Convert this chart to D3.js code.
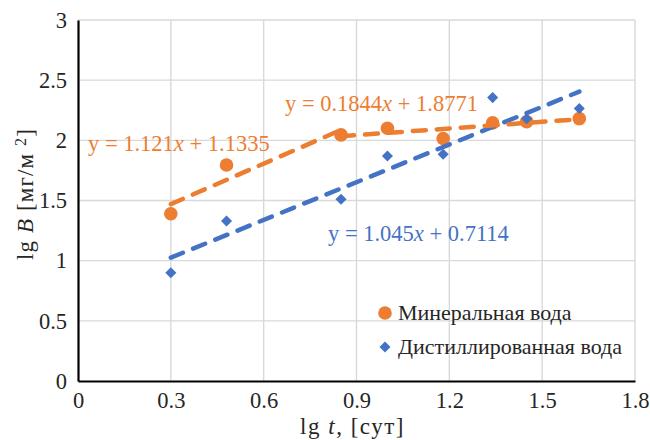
<!DOCTYPE html>
<html>
<head>
<meta charset="utf-8">
<script src="https://cdn.jsdelivr.net/npm/d3@7"></script>
<style>
  body { margin: 0; background: #fff; }
</style>
</head>
<body>
<div id="chart"></div>
<script>
// lg t values (shared by both series)
const lgT = [0.3, 0.48, 0.85, 1.0, 1.18, 1.34, 1.45, 1.62]
const mineral = [1.39, 1.795, 2.045, 2.1, 2.015, 2.145, 2.155, 2.18]
const distilled = [0.9, 1.33, 1.51, 1.87, 1.885, 2.355, 2.18, 2.265]

// trend lines: [slope, intercept, xFrom, xTo]
const mineralFits = [
  [1.121, 1.1335, 0.3, 0.85],
  [0.1844, 1.8771, 0.85, 1.62],
]
const distilledFits = [[1.045, 0.7114, 0.3, 1.62]]

const xTicks = [0, 0.3, 0.6, 0.9, 1.2, 1.5, 1.8]
const yTicks = [0, 0.5, 1, 1.5, 2, 2.5, 3]

const width = 650
const height = 440
const margin = { top: 20, right: 15, bottom: 59, left: 78 }
const orange = '#ED7D31'
const blue = '#4472C4'
const ink = '#262626'
const serif = '"Liberation Serif"'

const svg = d3.select('#chart').append('svg')
  .attr('width', width).attr('height', height)
  .style('font-family', serif)

const x = d3.scaleLinear().domain([0, 1.8]).range([margin.left, width - margin.right])
const y = d3.scaleLinear().domain([0, 3]).range([height - margin.bottom, margin.top])

// stretch letter spacing so a label spans the same width as in the picture
const fitWidth = (sel, target) => {
  const w = sel.node().getComputedTextLength()
  const n = sel.text().length
  sel.attr('letter-spacing', (target - w) / n)
}

// grid
svg.append('g')
  .selectAll('line')
  .data(xTicks.slice(1))
  .join('line')
  .attr('x1', (d) => x(d)).attr('x2', (d) => x(d))
  .attr('y1', y(0)).attr('y2', y(3))
  .attr('stroke', '#d9d9d9').attr('stroke-width', 1.4)

svg.append('g')
  .selectAll('line')
  .data(yTicks.slice(1))
  .join('line')
  .attr('x1', x(0)).attr('x2', x(1.8))
  .attr('y1', (d) => y(d)).attr('y2', (d) => y(d))
  .attr('stroke', '#d9d9d9').attr('stroke-width', 1.4)

// axes
const axisX = svg.append('g')
  .attr('transform', `translate(0,${y(0)})`)
  .call(d3.axisBottom(x).tickValues(xTicks).tickSize(0).tickPadding(11).tickFormat((d) => String(+d.toFixed(1))))
axisX.select('.domain').attr('stroke', '#000').attr('stroke-width', 2.2)

const axisY = svg.append('g')
  .attr('transform', `translate(${x(0)},0)`)
  .call(d3.axisLeft(y).tickValues(yTicks).tickSize(0).tickPadding(11).tickFormat((d) => String(d)))
axisY.select('.domain').attr('stroke', '#000').attr('stroke-width', 2.2)

svg.selectAll('g').attr('font-family', null)
svg.selectAll('.tick text')
  .attr('font-size', 22.5)
  .attr('fill', ink)

// markers
const pts = (vals) => lgT.map((t, i) => ({ t, v: vals[i] }))

svg.append('g')
  .selectAll('circle')
  .data(pts(mineral))
  .join('circle')
  .attr('cx', (d) => x(d.t))
  .attr('cy', (d) => y(d.v))
  .attr('r', 6.8)
  .attr('fill', orange)

svg.append('g')
  .selectAll('path')
  .data(pts(distilled))
  .join('path')
  .attr('d', d3.symbol(d3.symbolDiamond2, 78))
  .attr('transform', (d) => `translate(${x(d.t)},${y(d.v)})`)
  .attr('fill', blue)

// trend lines
const fitLine = (f) => [[f[2], f[0] * f[2] + f[1]], [f[3], f[0] * f[3] + f[1]]]
const line = d3.line().x((d) => x(d[0])).y((d) => y(d[1]))

svg.append('g')
  .selectAll('path')
  .data(distilledFits)
  .join('path')
  .attr('d', (f) => line(fitLine(f)))
  .attr('fill', 'none')
  .attr('stroke', blue)
  .attr('stroke-width', 4.5)
  .attr('stroke-linecap', 'round')
  .attr('stroke-dasharray', '13,11')

svg.append('g')
  .selectAll('path')
  .data(mineralFits)
  .join('path')
  .attr('d', (f) => line(fitLine(f)))
  .attr('fill', 'none')
  .attr('stroke', orange)
  .attr('stroke-width', 4.5)
  .attr('stroke-linecap', 'round')
  .attr('stroke-dasharray', '13,11')

// equation labels
const equations = [
  { fit: mineralFits[0], color: orange, px: 88, py: 151 },
  { fit: mineralFits[1], color: orange, px: 285, py: 111 },
  { fit: distilledFits[0], color: blue, px: 328, py: 241 },
]
equations.forEach((e) => {
  const t = svg.append('text')
    .attr('x', e.px).attr('y', e.py)
    .attr('font-size', 22.5)
    .attr('fill', e.color)
    .attr('xml:space', 'preserve')
  t.append('tspan').text(`y = ${e.fit[0]}`)
  t.append('tspan').attr('font-style', 'italic').text('x')
  t.append('tspan').text(` + ${e.fit[1]}`)
})

// axis titles
const xTitle = svg.append('text')
  .attr('x', 300).attr('y', 434)
  .attr('font-size', 23)
  .attr('fill', ink)
xTitle.append('tspan').text('lg ')
xTitle.append('tspan').attr('font-style', 'italic').text('t')
xTitle.append('tspan').text(', [сут]')
fitWidth(xTitle, 105)

const yTitle = svg.append('text')
  .attr('transform', 'translate(33,260) rotate(-90)')
  .attr('font-size', 23)
  .attr('fill', ink)
yTitle.append('tspan').text('lg ')
yTitle.append('tspan').attr('font-style', 'italic').text('B')
yTitle.append('tspan').text(' [мг/м ')
yTitle.append('tspan').attr('dy', -7).attr('font-size', 16).text('2')
yTitle.append('tspan').attr('dy', 7).text(']')
fitWidth(yTitle, 132)

// legend
const legend = [
  { name: 'Минеральная вода', color: orange, shape: 'circle' },
  { name: 'Дистиллированная вода', color: blue, shape: 'diamond' },
]
const lg = svg.append('g').attr('transform', 'translate(385,313)')
legend.forEach((d, i) => {
  const g = lg.append('g').attr('transform', `translate(0,${i * 34})`)
  if (d.shape === 'circle') {
    g.append('circle').attr('r', 6.8).attr('fill', d.color)
  } else {
    g.append('path').attr('d', d3.symbol(d3.symbolDiamond2, 78)).attr('fill', d.color)
  }
  g.append('text')
    .attr('x', 13).attr('y', 7)
    .attr('font-size', 22)
    .attr('fill', ink)
    .text(d.name)
})

svg.selectAll('text').style('font-family', serif)
</script>
</body>
</html>
